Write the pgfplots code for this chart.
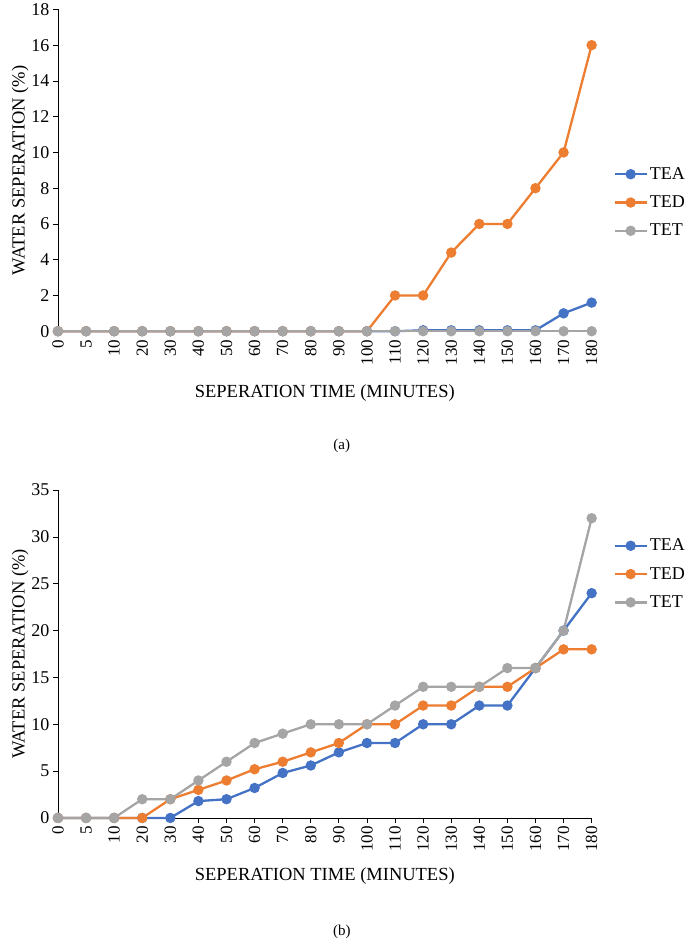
\documentclass[border=0pt]{standalone}
\usepackage{pgfplots}
\pgfplotsset{compat=1.18}
\usepackage{fontspec}
\setmainfont{Liberation Serif}
\definecolor{cA}{HTML}{4472C4}
\definecolor{cD}{HTML}{ED7D31}
\definecolor{cT}{HTML}{A5A5A5}
\pgfplotsset{
  common/.style={
    scale only axis, width=534pt, xmin=0, xmax=19, ymin=0,
    axis x line=bottom, axis y line=left, axis line style={-, line width=0.8pt},
    xtick={0,...,19},
    xticklabels={0,5,10,20,30,40,50,60,70,80,90,100,110,120,130,140,150,160,170,180},
    x tick label style={rotate=90, anchor=east, font=\fontsize{17}{17}\selectfont},
    y tick label style={font=\fontsize{18}{18}\selectfont},
    /pgf/number format/assume math mode=true,
    tick align=outside, major tick length=5pt, tick style={black, line width=0.8pt},
    xlabel={SEPERATION TIME (MINUTES)}, ylabel={WATER SEPERATION (\%)},
    label style={font=\fontsize{18.5}{18.5}\selectfont},
    ylabel style={yshift=-4pt},
    clip=false,
    legend cell align=left,
    legend style={draw=none, font=\fontsize{18}{18}\selectfont, row sep=11pt},
    legend image code/.code={\draw[mark repeat=2,mark phase=2,#1] plot coordinates {(0pt,0pt)(16pt,0pt)(32pt,0pt)};},
    every axis plot/.append style={line width=2.3pt, mark=*, mark size=4pt},
  }
}
\begin{document}
\begin{tikzpicture}
\path (0pt,0pt) rectangle (685pt,942pt);
\begin{axis}[common, at={(58pt,611pt)}, anchor=origin, height=322pt, ymax=18, ytick={0,2,...,18},
  xlabel style={yshift=-13pt},
  legend style={at={(1.035,0.40)}, anchor=west}]
\addplot[cA, mark options={fill=cA}] coordinates {(0,0)(1,0)(2,0)(3,0)(4,0)(5,0)(6,0)(7,0)(8,0)(9,0)(10,0)(11,0)(12,0)(13,0.05)(14,0.05)(15,0.05)(16,0.05)(17,0.05)(18,1.0)(19,1.6)};
\addlegendentry{TEA}
\addplot[cD, mark options={fill=cD}] coordinates {(0,0)(1,0)(2,0)(3,0)(4,0)(5,0)(6,0)(7,0)(8,0)(9,0)(10,0)(11,0)(12,2)(13,2)(14,4.4)(15,6)(16,6)(17,8)(18,10)(19,16)};
\addlegendentry{TED}
\addplot[cT, mark options={fill=cT}] coordinates {(0,0)(1,0)(2,0)(3,0)(4,0)(5,0)(6,0)(7,0)(8,0)(9,0)(10,0)(11,0)(12,0)(13,0)(14,0)(15,0)(16,0)(17,0)(18,0)(19,0)};
\addlegendentry{TET}
\end{axis}
\node[font=\fontsize{15}{15}\selectfont] at (342pt,496pt) {(a)};
\begin{axis}[common, at={(58pt,124pt)}, anchor=origin, height=328pt, ymax=35, ytick={0,5,...,35},
  xlabel style={yshift=-9pt},
  legend style={at={(1.035,0.744)}, anchor=west}]
\addplot[cA, mark options={fill=cA}] coordinates {(0,0)(1,0)(2,0)(3,0)(4,0)(5,1.8)(6,2)(7,3.2)(8,4.8)(9,5.6)(10,7)(11,8)(12,8)(13,10)(14,10)(15,12)(16,12)(17,16)(18,20)(19,24)};
\addlegendentry{TEA}
\addplot[cD, mark options={fill=cD}] coordinates {(0,0)(1,0)(2,0)(3,0)(4,2)(5,3)(6,4)(7,5.2)(8,6)(9,7)(10,8)(11,10)(12,10)(13,12)(14,12)(15,14)(16,14)(17,16)(18,18)(19,18)};
\addlegendentry{TED}
\addplot[cT, mark options={fill=cT}] coordinates {(0,0)(1,0)(2,0)(3,2)(4,2)(5,4)(6,6)(7,8)(8,9)(9,10)(10,10)(11,10)(12,12)(13,14)(14,14)(15,14)(16,16)(17,16)(18,20)(19,32)};
\addlegendentry{TET}
\end{axis}
\node[font=\fontsize{15}{15}\selectfont] at (342pt,10pt) {(b)};
\end{tikzpicture}
\end{document}
